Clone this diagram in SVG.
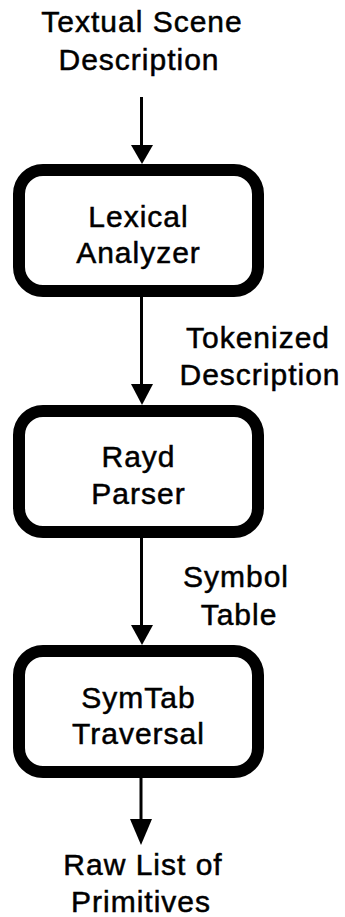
<svg xmlns="http://www.w3.org/2000/svg" width="345" height="917" viewBox="0 0 345 917">
  <style>
    .box { fill: #fff; stroke: #000; stroke-width: 12; }
    .lbl { font-family: "Liberation Sans", Arial, Helvetica, sans-serif; font-size: 30px; letter-spacing: 1px; fill: #000; stroke: #000; stroke-width: 0.5; text-anchor: middle; }
    .wire { stroke: #000; stroke-width: 3; fill: none; }
    .head { fill: #000; }
  </style>
  <rect width="345" height="917" fill="#fff"/>

  <!-- pipeline input / output labels -->
  <g id="input-label">
    <text class="lbl" x="142" y="32">Textual Scene</text>
    <text class="lbl" x="139" y="70">Description</text>
  </g>

  <g id="lexical-analyzer">
    <rect class="box" x="19" y="170" width="239" height="121" rx="24"/>
    <text class="lbl" x="138.5" y="227">Lexical</text>
    <text class="lbl" x="138.5" y="263">Analyzer</text>
  </g>

  <g id="rayd-parser">
    <rect class="box" x="19" y="411" width="239" height="121" rx="24"/>
    <text class="lbl" x="138.5" y="467">Rayd</text>
    <text class="lbl" x="138.5" y="504">Parser</text>
  </g>

  <g id="symtab-traversal">
    <rect class="box" x="19" y="651" width="239" height="121" rx="24"/>
    <text class="lbl" x="138.5" y="708">SymTab</text>
    <text class="lbl" x="138.5" y="744">Traversal</text>
  </g>

  <g id="output-label">
    <text class="lbl" x="143" y="875">Raw List of</text>
    <text class="lbl" x="141" y="912">Primitives</text>
  </g>

  <!-- connectors with their edge labels -->
  <g id="connectors">
    <line class="wire" x1="141.5" y1="97" x2="141.5" y2="147"/>
    <polygon class="head" points="131,145 153,145 142,164"/>

    <line class="wire" x1="141.5" y1="297" x2="141.5" y2="386"/>
    <polygon class="head" points="131,384 153,384 142,405"/>
    <text class="lbl" x="258" y="348">Tokenized</text>
    <text class="lbl" x="260" y="385">Description</text>

    <line class="wire" x1="141.5" y1="538" x2="141.5" y2="627"/>
    <polygon class="head" points="131,625 153,625 142,645"/>
    <text class="lbl" x="236" y="587">Symbol</text>
    <text class="lbl" x="239" y="625">Table</text>

    <line class="wire" x1="141" y1="778" x2="141" y2="821"/>
    <polygon class="head" points="130,819 152,819 141,845"/>
  </g>
</svg>
